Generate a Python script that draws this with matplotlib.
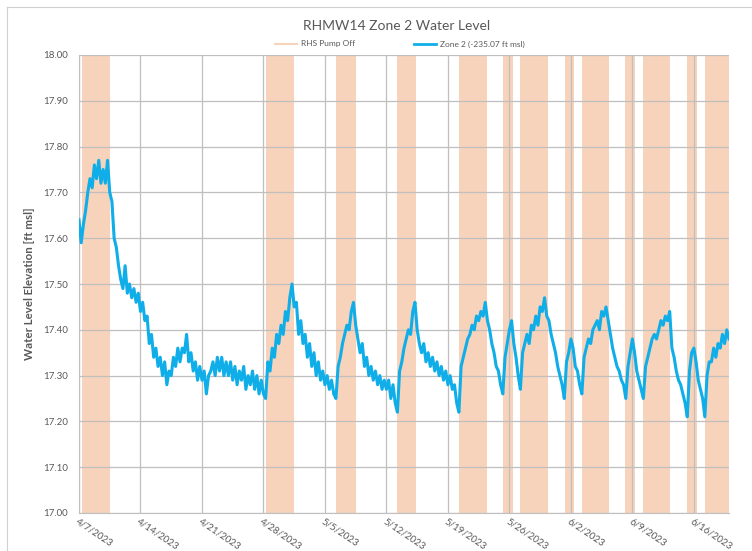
import matplotlib
matplotlib.use("Agg")
import matplotlib.pyplot as plt
from matplotlib.lines import Line2D
import pandas as pd

plt.rcParams['font.family'] = ['Lato', 'DejaVu Sans']

# ---------------- data ----------------
start_time = "2023-04-07 00:00"
step = "6h"
zone2_level = [
    17.64, 17.59, 17.63, 17.66,
    17.70, 17.73, 17.71, 17.76,
    17.73, 17.77, 17.72, 17.75,
    17.72, 17.77, 17.70, 17.68,
    17.60, 17.58, 17.54, 17.51,
    17.49, 17.54, 17.48, 17.50,
    17.47, 17.49, 17.46, 17.48,
    17.44, 17.46, 17.42, 17.43,
    17.37, 17.39, 17.34, 17.36,
    17.32, 17.34, 17.30, 17.33,
    17.28, 17.31, 17.30, 17.34,
    17.32, 17.36, 17.33, 17.36,
    17.35, 17.39, 17.33, 17.35,
    17.31, 17.33, 17.29, 17.32,
    17.29, 17.31, 17.26, 17.30,
    17.31, 17.33, 17.30, 17.34,
    17.31, 17.34, 17.30, 17.33,
    17.30, 17.33, 17.29, 17.32,
    17.28, 17.31, 17.29, 17.32,
    17.27, 17.30, 17.28, 17.31,
    17.27, 17.30, 17.26, 17.29,
    17.26, 17.25, 17.33, 17.31,
    17.36, 17.34, 17.39, 17.37,
    17.41, 17.39, 17.44, 17.42,
    17.47, 17.50, 17.45, 17.46,
    17.39, 17.42, 17.37, 17.39,
    17.34, 17.37, 17.32, 17.35,
    17.30, 17.33, 17.29, 17.31,
    17.28, 17.30, 17.27, 17.29,
    17.26, 17.25, 17.32, 17.34,
    17.37, 17.39, 17.41, 17.40,
    17.44, 17.46, 17.41, 17.38,
    17.35, 17.37, 17.32, 17.34,
    17.30, 17.32, 17.29, 17.31,
    17.28, 17.30, 17.27, 17.29,
    17.27, 17.29, 17.25, 17.28,
    17.24, 17.22, 17.31, 17.33,
    17.36, 17.38, 17.40, 17.39,
    17.44, 17.46, 17.40, 17.37,
    17.35, 17.37, 17.33, 17.35,
    17.32, 17.34, 17.31, 17.33,
    17.30, 17.32, 17.29, 17.31,
    17.28, 17.30, 17.27, 17.28,
    17.24, 17.22, 17.32, 17.34,
    17.36, 17.38, 17.39, 17.41,
    17.40, 17.43, 17.42, 17.44,
    17.43, 17.46, 17.42, 17.40,
    17.37, 17.35, 17.32, 17.31,
    17.28, 17.26, 17.34, 17.37,
    17.40, 17.42, 17.37, 17.34,
    17.30, 17.27, 17.35, 17.37,
    17.39, 17.37, 17.41, 17.40,
    17.43, 17.41, 17.45, 17.44,
    17.47, 17.43, 17.42, 17.39,
    17.37, 17.35, 17.32, 17.30,
    17.28, 17.25, 17.33, 17.35,
    17.38, 17.36, 17.32, 17.31,
    17.28, 17.26, 17.34, 17.36,
    17.38, 17.37, 17.40, 17.41,
    17.42, 17.40, 17.44, 17.43,
    17.45, 17.42, 17.39, 17.36,
    17.34, 17.32, 17.31, 17.29,
    17.28, 17.25, 17.32, 17.35,
    17.38, 17.35, 17.31, 17.29,
    17.27, 17.25, 17.32, 17.34,
    17.36, 17.38, 17.39, 17.38,
    17.40, 17.42, 17.41, 17.43,
    17.42, 17.44, 17.36, 17.34,
    17.31, 17.29, 17.28, 17.26,
    17.24, 17.21, 17.31, 17.35,
    17.36, 17.33, 17.29, 17.27,
    17.25, 17.21, 17.30, 17.33,
    17.33, 17.36, 17.34, 17.37,
    17.36, 17.39, 17.37, 17.40,
    17.38,
]

pump_off_start = ['2023-04-07 07:00', '2023-04-28 06:00', '2023-05-06 05:00',
                  '2023-05-13 05:00', '2023-05-20 05:00', '2023-05-25 07:00',
                  '2023-05-27 05:00', '2023-06-01 07:00', '2023-06-03 05:00',
                  '2023-06-08 05:00', '2023-06-10 05:00', '2023-06-15 05:00',
                  '2023-06-17 06:00']
pump_off_end = ['2023-04-10 12:30', '2023-05-01 11:00', '2023-05-08 12:00',
                '2023-05-15 09:00', '2023-05-23 12:00', '2023-05-26 10:00',
                '2023-05-30 10:00', '2023-06-02 09:00', '2023-06-06 08:00',
                '2023-06-09 07:00', '2023-06-13 08:00', '2023-06-16 08:00',
                '2023-06-20 00:00']

tick_dates = ['2023-04-07', '2023-04-14', '2023-04-21', '2023-04-28', '2023-05-05',
              '2023-05-12', '2023-05-19', '2023-05-26', '2023-06-02', '2023-06-09',
              '2023-06-16']
tick_labels = ['4/7/2023', '4/14/2023', '4/21/2023', '4/28/2023', '5/5/2023',
               '5/12/2023', '5/19/2023', '5/26/2023', '6/2/2023', '6/9/2023',
               '6/16/2023']
y_ticks = [17.00, 17.10, 17.20, 17.30, 17.40, 17.50, 17.60, 17.70, 17.80, 17.90, 18.00]

x_min, x_max = '2023-04-07 00:00', '2023-06-20 00:00'

# ---------------- plot ----------------
W, H = 752, 551
fig = plt.figure(figsize=(W / 100, H / 100), dpi=100)
ax = fig.add_axes([79 / W, 1 - 513 / H, (729 - 79) / W, (513 - 55) / H])

band_color = '#F8D3BB'
line_color = '#0FAEE9'
grid_color = '#BFBFBF'
text_color = '#595959'

for s, e in zip(pump_off_start, pump_off_end):
    ax.axvspan(pd.Timestamp(s), pd.Timestamp(e), color=band_color, lw=0, zorder=1)

times = pd.date_range(start_time, periods=len(zone2_level), freq=step)
ax.plot(times, zone2_level, color=line_color, lw=2.2, zorder=3, solid_joinstyle='round')

ax.set_xlim(pd.Timestamp(x_min), pd.Timestamp(x_max))
ax.set_ylim(17.0, 18.0)
ax.set_yticks(y_ticks)
ax.set_yticklabels([f"{v:.2f}" for v in y_ticks], fontsize=7, color=text_color)
ax.set_xticks([pd.Timestamp(d) for d in tick_dates])
ax.set_xticklabels(tick_labels, fontsize=7.0, color=text_color, rotation=-34,
                   ha='left', va='top', rotation_mode='anchor')
ax.tick_params(axis='y', length=0, pad=8)
ax.tick_params(axis='x', length=0, pad=3)

ax.grid(True, color=grid_color, lw=0.9, zorder=2)
for gl in ax.get_xgridlines() + ax.get_ygridlines():
    gl.set_zorder(2)
for side in ['top', 'right']:
    ax.spines[side].set_visible(False)
ax.spines['left'].set_color(grid_color)
ax.spines['bottom'].set_color(grid_color)
ax.spines['left'].set_zorder(2)

ax.set_ylabel('Water Level Elevation [ft msl]', fontsize=8.3, fontweight='bold',
              color=text_color, labelpad=6)

fig.text(397 / W, 1 - 26 / H, 'RHMW14 Zone 2 Water Level', ha='center', va='center',
         fontsize=10, color=text_color)

handles = [Line2D([], [], color=band_color, lw=1.5),
           Line2D([], [], color=line_color, lw=2)]
fig.legend(handles, ['RHS Pump Off', 'Zone 2 (-235.07 ft msl)'], loc='center',
           bbox_to_anchor=(400 / W, 1 - 44 / H), ncol=2, frameon=False,
           fontsize=6, handlelength=2.6, handletextpad=0.5, columnspacing=7,
           labelcolor=text_color)

# outer chart-area border lines
fig.add_artist(Line2D([7 / W, 7 / W], [0, 1 - 7 / H], transform=fig.transFigure,
                      color='#D0D0D0', lw=0.8))
fig.add_artist(Line2D([7 / W, 1], [1 - 7 / H, 1 - 7 / H], transform=fig.transFigure,
                      color='#D0D0D0', lw=0.8))

fig.savefig('out.png', dpi=100)
